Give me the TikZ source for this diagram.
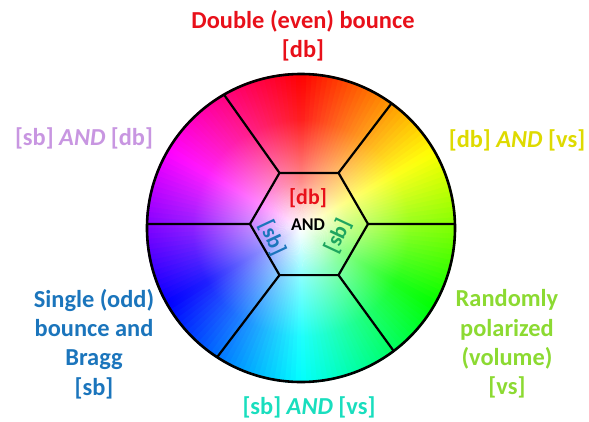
\documentclass[tikz,border=0pt]{standalone}
\usepackage{fontspec}
\setmainfont{Carlito}
\usetikzlibrary{fadings}

\definecolor{dbred}{RGB}{232,16,26}
\definecolor{sbblue}{RGB}{27,117,188}
\definecolor{vsgreen}{RGB}{140,218,50}
\definecolor{sbdbpurple}{RGB}{200,150,225}
\definecolor{dbvsyellow}{RGB}{222,218,0}
\definecolor{sbvsteal}{RGB}{25,222,190}
\definecolor{coregreen}{RGB}{30,165,95}

% white core laid over the hue wheel
\pgfdeclareradialshading{coreshade}{\pgfpointorigin}{%
  color(0bp)=(white); color(15bp)=(white!55!black);
  color(35bp)=(white!12!black); color(50bp)=(black)}
\pgfdeclarefading{whitecore}{\pgfuseshading{coreshade}}

\tikzset{%
  % Specifications for style of labels:
  base/.style = {
    align=center,
    inner sep=0pt,
    font=\bfseries\fontsize{24.5}{29.5}\selectfont
  },
  core/.style = {inner sep=0pt, font=\bfseries\fontsize{22}{24}\selectfont},
  border/.style = {line width=2.2bp, black},
}

\begin{document}
\begin{tikzpicture}[x=1bp, y=1bp, line join=round]
  \useasboundingbox (-301,-193) rectangle (288,228);
  % hue wheel
  \foreach \a in {0,2,...,358}{
    \pgfmathsetmacro\hue{mod(450-\a-1,360)}
    \definecolor{wedge}{Hsb}{\hue,1,1}
    \fill[wedge] (0,0) -- (\a:155) arc[start angle=\a, end angle=\a+2.6, radius=155] -- cycle;
  }
  \fill[white, path fading=whitecore, fit fading=false,
    fading transform={scale=3.1}] (0,0) circle (155);
  % hexagon and spokes
  \coordinate (hexc) at (8,4);
  \foreach \i/\ang in {1/1.5, 2/54, 3/120, 4/178.5, 5/237, 6/307}{
    \coordinate (h\i) at ([shift={(hexc)}]\i*60-60:59);
    \coordinate (r\i) at (\ang:154);
  }
  \draw[border] (h1) -- (h2) -- (h3) -- (h4) -- (h5) -- (h6) -- cycle;
  \foreach \i in {1,...,6} \draw[border] (h\i) -- (r\i);
  \draw[border, line width=2.6bp] (0,0) circle (154);
  % outer labels
  \node (db) [base, text=dbred] at (2,192) {Double (even) bounce\\{}[db]};
  \node (sbdb) [base, text=sbdbpurple] at (-217,90) {[sb] \textit{AND} [db]};
  \node (dbvs) [base, text=dbvsyellow] at (216,88) {[db] \textit{AND} [vs]};
  \node (sb) [base, text=sbblue] at (-207,-116) {Single (odd)\\bounce and\\Bragg\\{}[sb]};
  \node (vs) [base, text=vsgreen] at (206,-116) {Randomly\\polarized\\(volume)\\{}[vs]};
  \node (sbvs) [base, text=sbvsteal] at (8,-179) {[sb] \textit{AND} [vs]};
  % inner labels
  \node (coredb) [core, text=dbred] at (7,30) {[db]};
  \node (coreand) [core, font=\bfseries\fontsize{18}{20}\selectfont] at (7,3) {AND};
  \node (coresbl) [core, text=sbblue, rotate=-65] at (-29,-10) {[sb]};
  \node (coresbr) [core, text=coregreen, rotate=65] at (37,-8) {[sb]};
\end{tikzpicture}
\end{document}
